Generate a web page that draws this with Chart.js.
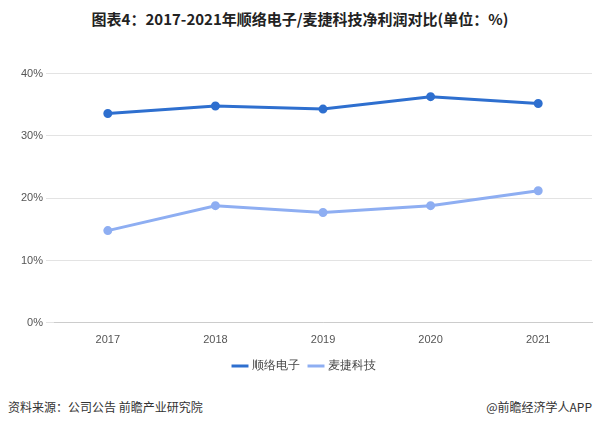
<!DOCTYPE html>
<html><head><meta charset="utf-8">
<script src="https://cdn.jsdelivr.net/npm/chart.js@4"></script>
<style>
body{margin:0;width:600px;height:426px;background:#fff;font-family:"Noto Sans CJK SC",sans-serif;position:relative;overflow:hidden}
#title{position:absolute;top:8px;left:0;width:600px;text-align:center;font-size:15px;font-weight:bold;color:#222}
#box{position:absolute;top:64px;left:0;width:600px;height:318px}
#src{position:absolute;top:398px;left:8px;font-size:12px;color:#333}
#app{position:absolute;top:398px;right:8px;font-size:12px;color:#333}
</style></head><body>
<div id="title">图表4：2017-2021年顺络电子/麦捷科技净利润对比(单位：%)</div>
<div id="box"><canvas id="chart"></canvas></div>
<div id="src">资料来源：公司公告 前瞻产业研究院</div>
<div id="app">@前瞻经济学人APP</div>
<script>
const years = ['2017', '2018', '2019', '2020', '2021'];
const shunluo = [33.6, 34.8, 34.3, 36.3, 35.2];
const maijie = [14.8, 18.8, 17.7, 18.8, 21.2];

new Chart(document.getElementById('chart'), {
    type: 'line',
    data: {
        labels: years,
        datasets: [
            { label: '顺络电子', data: shunluo, borderColor: '#2e6fcf', backgroundColor: '#2e6fcf', borderWidth: 3, pointRadius: 3, tension: 0 },
            { label: '麦捷科技', data: maijie, borderColor: '#8eaef2', backgroundColor: '#8eaef2', borderWidth: 3, pointRadius: 3, tension: 0 }
        ]
    },
    options: {
        responsive: true, maintainAspectRatio: false, animation: false,
        layout: { padding: { left: 18, right: 8 } },
        plugins: {
            legend: { position: 'bottom', labels: { usePointStyle: true, pointStyle: 'line', color: '#444', font: { size: 12 } } },
            tooltip: { enabled: false }
        },
        scales: {
            x: { offset: true, grid: { display: false }, ticks: { color: '#555', font: { size: 11 } }, border: { color: '#ccc' } },
            y: { min: 0, max: 40, ticks: { stepSize: 10, color: '#555', font: { size: 11 }, callback: v => v + '%' },
                 grid: { color: '#e3e3e3' }, border: { display: false } }
        }
    }
});
</script>
</body></html>
